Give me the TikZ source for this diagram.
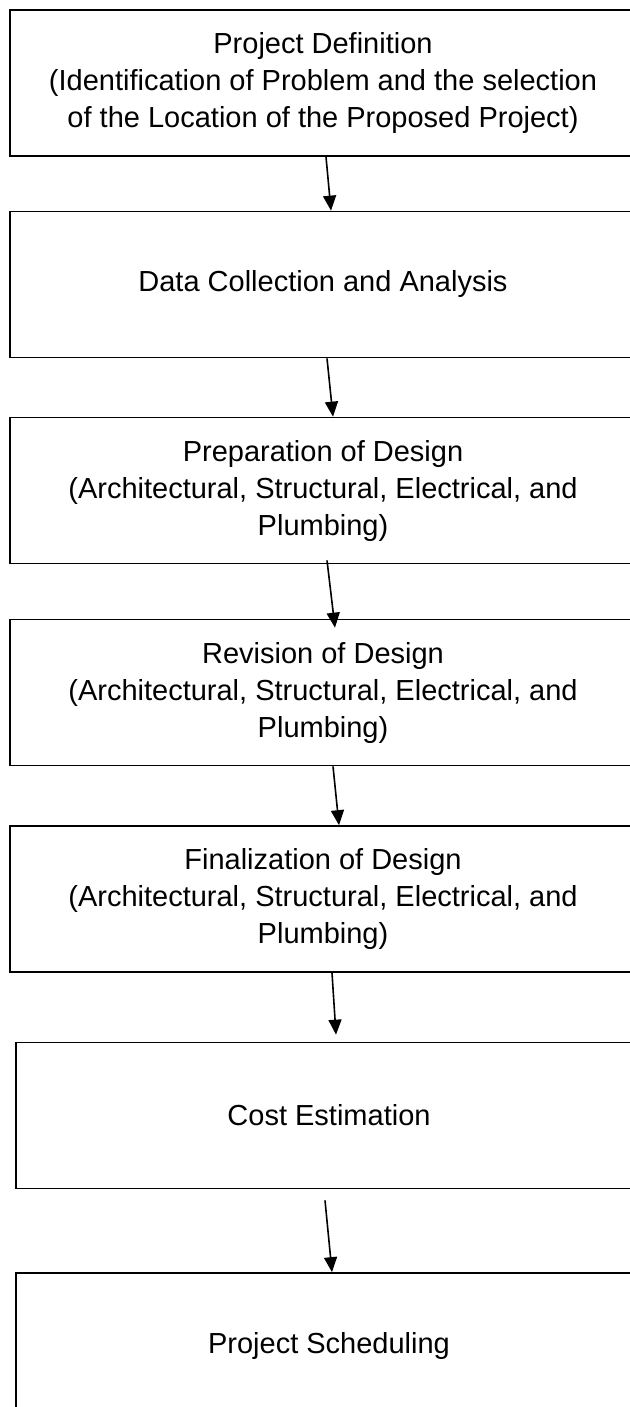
\documentclass[tikz,border=0pt]{standalone}
\usepackage{fontspec}
\setmainfont{Liberation Sans}
\usepackage{tikz}
\usetikzlibrary{arrows.meta}

\begin{document}
\begin{tikzpicture}[x=1pt,y=1pt,>={Triangle[length=15pt,width=13pt]},line cap=butt,
  stepbox/.style={draw,line width=1.7pt,minimum width=626pt,minimum height=146pt,
    inner sep=0pt,align=center,font=\fontsize{29}{37}\selectfont},
  flow/.style={->,line width=1.6pt}]
\useasboundingbox (0,0) rectangle (629,-1407);
% the seven stages, top to bottom
\node[stepbox] (define) at (323,-83) {Project Definition\\(Identification of Problem and the selection\\of the Location of the Proposed Project)};
\node[stepbox] (data) at (323,-284.5) {Data Collection and Analysis};
\node[stepbox] (prep) at (323,-490.5) {Preparation of Design\\(Architectural, Structural, Electrical, and\\Plumbing)};
\node[stepbox] (revise) at (323,-692.5) {Revision of Design\\(Architectural, Structural, Electrical, and\\Plumbing)};
\node[stepbox] (final) at (323,-899) {Finalization of Design\\(Architectural, Structural, Electrical, and\\Plumbing)};
\node[stepbox] (cost) at (329,-1115.5) {Cost Estimation};
\node[stepbox] (sched) at (329,-1346) {Project Scheduling};
% arrows between stages
\draw[flow] ([xshift=3]define.south) -- ([xshift=8]data.north);
\draw[flow] ([xshift=4]data.south) -- ([xshift=10]prep.north);
\draw[flow] ([xshift=4,yshift=4]prep.south) -- ([xshift=12,yshift=-9]revise.north);
\draw[flow] ([xshift=10]revise.south) -- ([xshift=16]final.north);
\draw[flow] ([xshift=9]final.south) -- ([xshift=7,yshift=7]cost.north);
\draw[flow] ([xshift=-4,yshift=-11]cost.south) -- ([xshift=3]sched.north);
\end{tikzpicture}
\end{document}
